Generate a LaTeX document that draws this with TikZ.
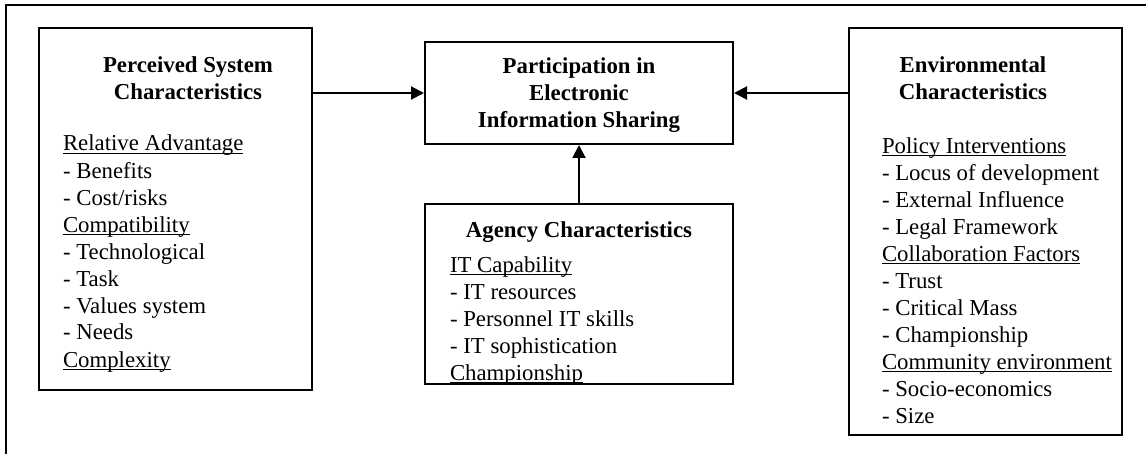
\documentclass[tikz,border=0pt]{standalone}
\usepackage{fontspec}
\setmainfont{Liberation Serif}
\usetikzlibrary{arrows.meta,calc}

% underline that sits close under the baseline
\newcommand\ulbl[1]{\setbox0\hbox{#1}\rlap{\rule[-1.6pt]{\wd0}{0.6pt}}\box0}

\begin{document}
\begin{tikzpicture}
        [x=0.5pt,y=-0.5pt,line width=1pt,
        box/.style={shape=rectangle,draw,line width=1pt,inner sep=0pt},
        head/.style={font=\fontsize{11.4}{13.5}\selectfont\bfseries,align=center,inner sep=0pt,anchor=base},
        items/.style={font=\fontsize{11.4}{13.5}\selectfont,align=left,inner sep=0pt,anchor=base west},
        link/.style={-{Triangle[length=6.5pt,width=6.5pt]},line width=1pt}]
		\useasboundingbox (0,0) rectangle (1146,454);
		% outer frame
		\draw (6,454) -- (6,5) -- (1146,5);
		% boxes
		\node[box,minimum width=136.5pt,minimum height=181pt] (sys) at (175.5,209) {};
		\node[box,minimum width=154pt,minimum height=51pt] (part) at (579,93) {};
		\node[box,minimum width=154pt,minimum height=90pt] (agency) at (579,294) {};
		\node[box,minimum width=136.5pt,minimum height=203.5pt] (env) at (985.5,231.5) {};
		% titles (placed at last baseline)
		\node[head] (sysT) at (188,100) {Perceived System\\Characteristics};
		\node[head] (partT) at (579,128) {Participation in\\Electronic\\Information Sharing};
		\node[head] (agencyT) at (579,238) {Agency Characteristics};
		\node[head] (envT) at (973,100) {Environmental\\Characteristics};
		% lists
		\node[items] (sysL) at (62,367) {\ulbl{Relative Advantage}\\- Benefits\\- Cost/risks\\
			\ulbl{Compatibility}\\- Technological\\- Task\\- Values system\\- Needs\\
			\ulbl{Complexity}};
		\node[items] (agencyL) at (449,380) {\ulbl{IT Capability}\\- IT resources\\
			- Personnel IT skills\\- IT sophistication\\\ulbl{Championship}};
		\node[items] (envL) at (881,423) {\ulbl{Policy Interventions}\\- Locus of development\\
			- External Influence\\- Legal Framework\\\ulbl{Collaboration Factors}\\- Trust\\
			- Critical Mass\\- Championship\\\ulbl{Community environment}\\- Socio-economics\\- Size};
		% arrows
		\draw[link] (sys.east |- part.west) -- (part.west);
		\draw[link] (env.west |- part.east) -- (part.east);
		\draw[link] (agency.north) -- (part.south);
	\end{tikzpicture}
\end{document}
